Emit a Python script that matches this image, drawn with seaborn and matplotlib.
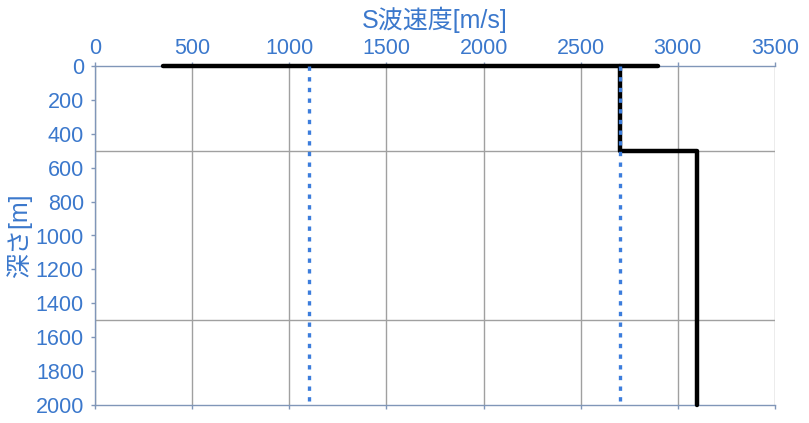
import matplotlib
matplotlib.use("Agg")
import matplotlib.pyplot as plt
from matplotlib.ticker import MultipleLocator
import pandas as pd
import seaborn as sns

# surface line
surface_vs = [350, 2900]
surface_depth = [0, 0]

# S-wave velocity profile (step)
profile_vs = [2700, 2700, 3100, 3100]
profile_depth = [0, 500, 500, 2000]

# reference velocities (dotted)
ref_vs = [1100, 2700]
ref_depth = [0, 2000]

TEXT_BLUE = "#3b78cc"
SPINE = "#8096b8"

sns.set_theme(style="white")
plt.rcParams["font.family"] = ["Liberation Sans", "Noto Sans CJK JP", "DejaVu Sans"]

fig = plt.figure(figsize=(8.09, 4.23), dpi=100)
ax = fig.add_axes([95 / 809, 1 - 405 / 423, 680 / 809, 339 / 423])

surf = pd.DataFrame({"vs": surface_vs, "depth": surface_depth})
prof = pd.DataFrame({"vs": profile_vs, "depth": profile_depth})
sns.lineplot(data=surf, x="vs", y="depth", sort=False, estimator=None,
             color="black", linewidth=3.2, ax=ax, clip_on=False, zorder=4)
sns.lineplot(data=prof, x="vs", y="depth", sort=False, estimator=None,
             color="black", linewidth=3.2, ax=ax, clip_on=False, zorder=4)
for v in ref_vs:
    ref = pd.DataFrame({"vs": [v, v], "depth": ref_depth})
    sns.lineplot(data=ref, x="vs", y="depth", sort=False, estimator=None,
                 color="#3c7ddc", linewidth=2.4, linestyle=(0, (1.3, 1.9)),
                 dash_capstyle="butt", ax=ax, clip_on=False, zorder=5)

ax.set_xlim(0, 3500)
ax.set_ylim(2000, 0)
ax.xaxis.set_major_locator(MultipleLocator(500))
ax.yaxis.set_major_locator(MultipleLocator(200))
ax.yaxis.set_minor_locator(MultipleLocator(500))
ax.xaxis.tick_top()
ax.xaxis.set_label_position("top")

ax.grid(False)
ax.grid(axis="x", which="major", color="#a0a0a0", linewidth=1)
ax.grid(axis="y", which="minor", color="#a0a0a0", linewidth=1)
ax.set_axisbelow(True)

ax.tick_params(axis="x", which="major", top=True, bottom=True, direction="out",
               length=3, width=1, color=SPINE, labelsize=15.5,
               labelcolor=TEXT_BLUE, pad=2)
ax.tick_params(axis="y", which="major", left=True, direction="out", length=3,
               width=1, color=SPINE, labelsize=15.5, labelcolor=TEXT_BLUE, pad=5)
ax.tick_params(axis="y", which="minor", length=0)

for side in ["top", "bottom", "left"]:
    ax.spines[side].set_color(SPINE)
    ax.spines[side].set_linewidth(1)
ax.spines["right"].set_visible(False)

ax.set_xlabel("S波速度[m/s]", fontsize=18, color=TEXT_BLUE, labelpad=7)
ax.set_ylabel("深さ[m]", fontsize=18, color=TEXT_BLUE)
ax.yaxis.set_label_coords(-0.092, 0.5)

fig.savefig("out.png", dpi=100)
